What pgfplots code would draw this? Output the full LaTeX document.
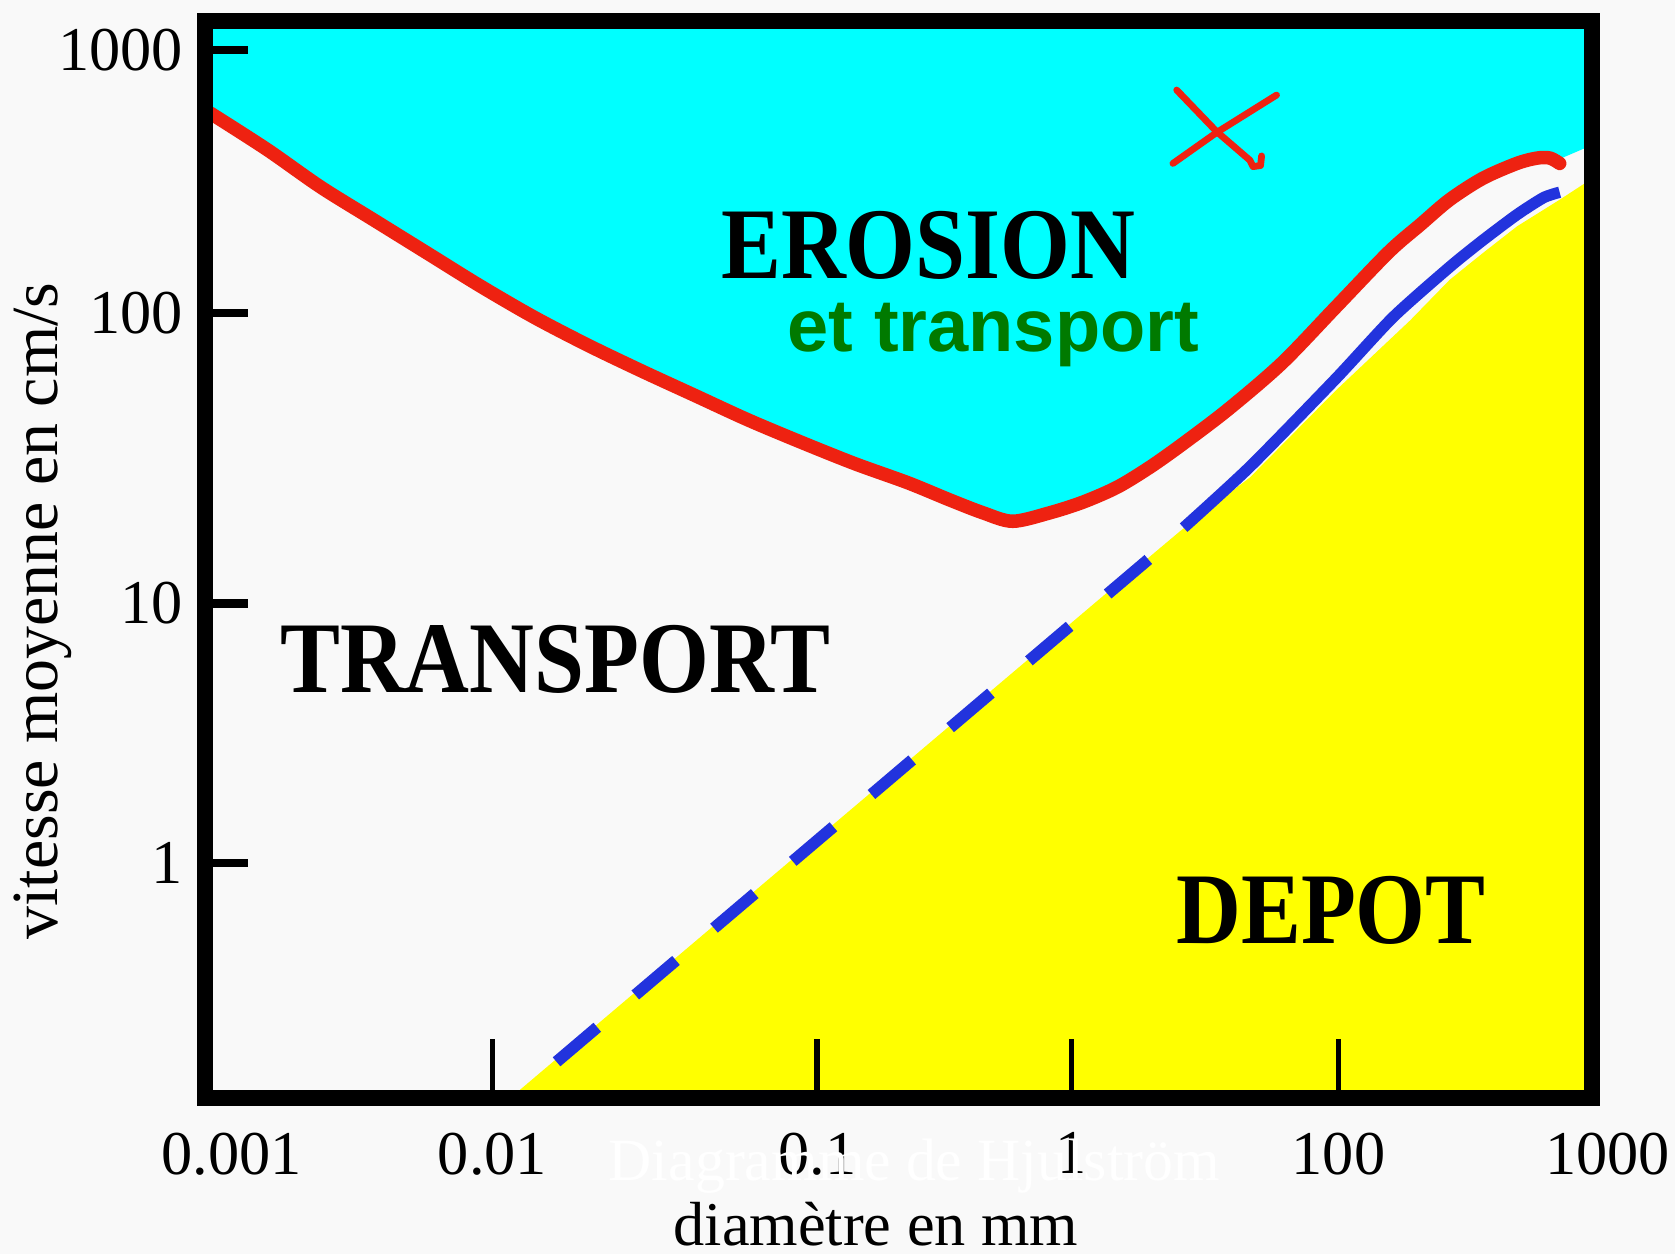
\documentclass[border=0pt]{standalone}
\usepackage{fontspec}
\setmainfont{Liberation Serif}
\newfontfamily\arialfont{Liberation Sans}
\usepackage{pgfplots}
\pgfplotsset{compat=1.18}
\definecolor{bgc}{RGB}{249,249,249}
\definecolor{cyanf}{RGB}{0,255,255}
\definecolor{yellowf}{RGB}{255,255,0}
\definecolor{redc}{RGB}{238,34,17}
\definecolor{bluec}{RGB}{34,51,221}
\definecolor{greent}{RGB}{0,122,0}

% erosion threshold (red curve), positions read on the figure's distorted axes
\pgfplotstableread{
x y
-3 914
50 880
100 845
150 814
200 783
250 752
300 723
350 697
400 673
450 650
500 627
550 606
600 586
650 568
689 552
720 540
748 532
783 540
814 550
846 564
877 583
908 605
950 637
1000 680
1050 732
1100 784
1130 810
1157 833
1188 853
1220 867
1239 872
1251 872
1260 867
}\redcurve

% deposition threshold, solid part (blue)
\pgfplotstableread{
x y
908 526
970 583
1050 665
1104 723
1157 770
1188 795
1220 819
1245 835
1260 840
}\bluesolid

\begin{document}
\begin{tikzpicture}
\begin{axis}[
  scale only axis, width=389.4pt, height=302.4pt,
  xmin=-8, xmax=1290, ymin=-8, ymax=1000,
  clip=false, axis on top,
  axis line style={line width=4.5pt, black},
  tick align=inside, tick pos=left,
  xtick={261,565,803,1053},
  xticklabels={\textrm{0.01},\textrm{0.1},\textrm{1},\textrm{100}},
  ytick={212,455,727,973},
  yticklabels={\textrm{1},\textrm{10},\textrm{100},\textrm{1000}},
  /pgf/number format/assume math mode=true,
  major tick length=12pt, minor tick length=16.5pt,
  major x tick style={draw=none},
  minor xtick={261,565,803,1053},
  minor x tick style={line width=1.6pt, black},
  major y tick style={line width=2.3pt, black},
  xticklabel style={font=\fontsize{17.5}{20}\selectfont, anchor=north, inner sep=0pt, yshift=-9.5pt},
  yticklabel style={font=\fontsize{17.5}{20}\selectfont, anchor=east, inner sep=0pt, xshift=-6pt},
]
% page background and picture extent
\fill[bgc] (axis cs:-200,1020) rectangle (axis cs:1368,-154);
\coordinate (bbsw) at (axis cs:-200,-154);
\coordinate (bbne) at (axis cs:1368,1020);

% erosion zone (cyan)
\addplot[fill=cyanf, draw=none] coordinates {
(-8,1000) (-8,918) (-3,914) (50,880) (100,845) (150,814) (200,783) (250,752)
(300,723) (350,697) (400,673) (450,650) (500,627) (550,606) (600,586) (650,568)
(689,552) (720,540) (748,532) (783,540) (814,550) (846,564) (877,583) (908,605)
(950,637) (1000,680) (1050,732) (1100,784) (1130,810) (1157,833) (1188,853)
(1220,867) (1239,872) (1251,872) (1262,872) (1290,884) (1290,1000)} -- cycle;

% deposition zone (yellow)
\addplot[fill=yellowf, draw=none] coordinates {
(280,-8) (287,0) (842,470) (905,523) (970,573) (1050,654) (1120,720) (1157,758)
(1188,783) (1220,808) (1260,833) (1283,848) (1290,848) (1290,-8)} -- cycle;

% curves
\addplot[redc, line width=3.8pt, line cap=round, line join=round, smooth, tension=0.5] table[x=x,y=y] {\redcurve};
\addplot[bluec, line width=3.3pt, dash pattern=on 15pt off 14pt] coordinates {(321,26) (877,498)};
\addplot[bluec, line width=3.2pt, line join=round, smooth, tension=0.4] table[x=x,y=y] {\bluesolid};

% red cross annotation
\addplot[redc, line width=1.9pt, line cap=round, line join=round] coordinates {
(901.5,935.7) (939,896.7) (970,870) (973,864) (980,865) (981,874)};
\addplot[redc, line width=1.9pt, line cap=round] coordinates {(898,867) (939,896) (995,931)};

% zone labels
\node[inner sep=0pt, font=\fontsize{28.5}{30}\selectfont\bfseries] at (axis cs:669,790) {\scalebox{0.885}[1]{EROSION}};
\node[inner sep=0pt, anchor=base, text=greent, font=\arialfont\bfseries\fontsize{20.8}{24}\selectfont] at (axis cs:730,691) {et transport};
\node[inner sep=0pt, font=\fontsize{28.5}{30}\selectfont\bfseries] at (axis cs:320,403) {\scalebox{0.885}[1]{TRANSPORT}};
\node[inner sep=0pt, font=\fontsize{28.5}{30}\selectfont\bfseries] at (axis cs:1046,168) {\scalebox{0.885}[1]{DEPOT}};

% end tick labels
\node[font=\fontsize{17.5}{20}\selectfont, anchor=north, inner sep=0pt, yshift=-9.5pt] at (axis cs:17,-8) {0.001};
\node[font=\fontsize{17.5}{20}\selectfont, anchor=north, inner sep=0pt, yshift=-9.5pt] at (axis cs:1305,-8) {1000};

% axis titles
\node[inner sep=0pt, font=\fontsize{17.5}{20}\selectfont] at (axis cs:620,-126) {diamètre en mm};
\node[inner sep=0pt, rotate=90, font=\fontsize{18.5}{21}\selectfont] at (axis cs:-160,448) {vitesse moyenne en cm/s};

\coordinate (wt) at (axis cs:656,-85);
\end{axis}
\node[anchor=base, text=white, font=\fontsize{16.8}{20}\selectfont] at (wt) {Diagramme de Hjulström};
\pgfresetboundingbox
\path (bbsw) rectangle (bbne);
\end{tikzpicture}
\end{document}
